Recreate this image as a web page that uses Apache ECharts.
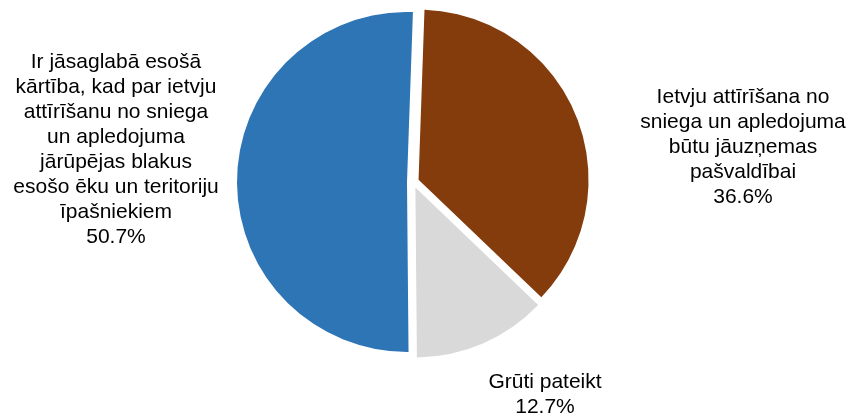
<!DOCTYPE html>
<html>
<head>
<meta charset="utf-8">
<script src="https://cdn.jsdelivr.net/npm/echarts@6/dist/echarts.min.js"></script>
<style>html,body{margin:0;padding:0;background:#fff;}#c{width:850px;height:416px;}</style>
</head>
<body>
<div id="c"></div>
<script>
var categories = [
  "Ietvju attīrīšana no\nsniega un apledojuma\nbūtu jāuzņemas\npašvaldībai",
  "Grūti pateikt",
  "Ir jāsaglabā esošā\nkārtība, kad par ietvju\nattīrīšanu no sniega\nun apledojuma\njārūpējas blakus\nesošo ēku un teritoriju\nīpašniekiem"
];
var values = [36.6, 12.7, 50.7];
var colors = ["#843C0C", "#D9D9D9", "#2E75B6"];
var labelPos = [[743, 147], [545, 395], [116, 150]];

var chart = echarts.init(document.getElementById('c'), null, {renderer: 'canvas'});
chart.setOption({
  animation: false,
  graphic: categories.map(function (n, i) {
    return {
      type: 'text',
      x: labelPos[i][0],
      y: labelPos[i][1],
      style: {
        text: n + '\n' + values[i].toFixed(1) + '%',
        fontFamily: 'Liberation Sans, Arial, sans-serif',
        fontSize: 21,
        lineHeight: 25,
        fill: '#000',
        align: 'center',
        verticalAlign: 'middle'
      }
    };
  }),
  series: [{
    type: 'pie',
    center: [413, 182],
    radius: 170,
    startAngle: 88,
    clockwise: true,
    selectedMode: 'multiple',
    selectedOffset: 6,
    emphasis: {disabled: true},
    data: categories.map(function (n, i) {
      return {name: n, value: values[i], selected: true, itemStyle: {color: colors[i]}};
    }),
    label: {show: false},
    labelLine: {show: false}
  }]
});
</script>
</body>
</html>
